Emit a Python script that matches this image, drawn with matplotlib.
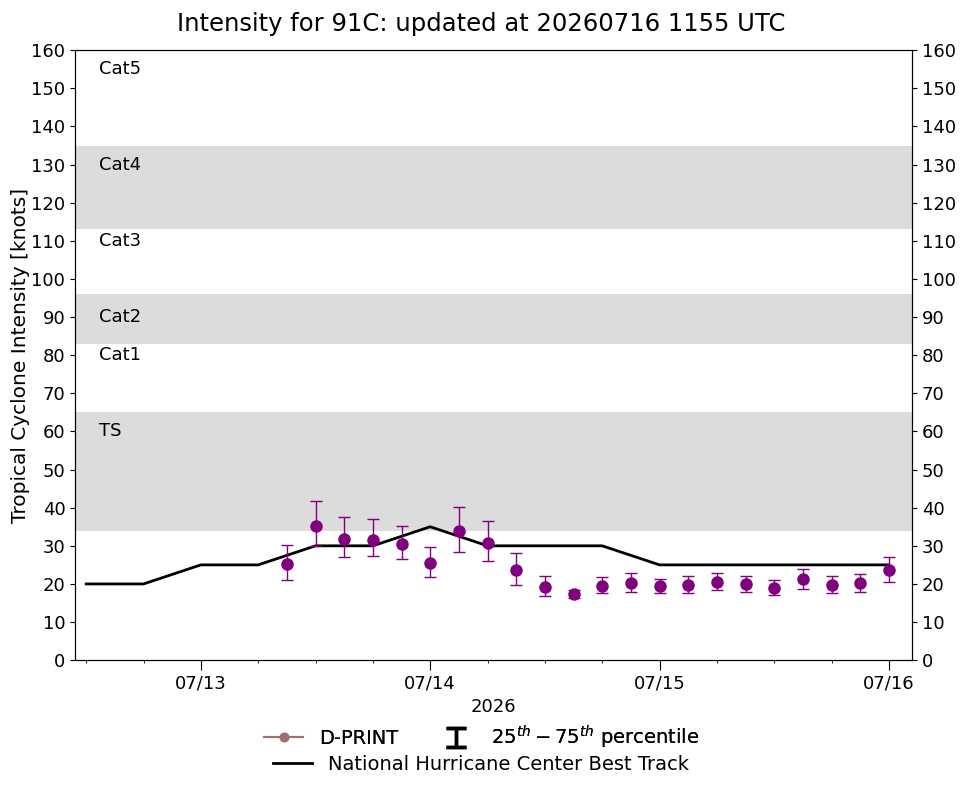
import matplotlib
matplotlib.use('Agg')
import matplotlib.pyplot as plt
import matplotlib.dates as mdates
from matplotlib.lines import Line2D
import numpy as np
from datetime import datetime, timedelta

# NHC best track, 6-hourly from 07/12 12Z
bt_start = datetime(2026, 7, 12, 12)
bt_vmax = [20, 20, 25, 25, 30, 30, 35, 30, 30, 30, 25, 25, 25, 25, 25]

# D-PRINT, 3-hourly from 07/13 09Z
dp_start = datetime(2026, 7, 13, 9)
dp_med = [25.2, 35.3, 31.8, 31.5, 30.5, 25.5, 34.0, 30.8, 23.7, 19.2, 17.3,
          19.5, 20.3, 19.4, 19.7, 20.6, 20.0, 19.0, 21.3, 19.7, 20.3, 23.7]
dp_p25 = [21.0, 30.0, 27.0, 27.2, 26.5, 21.8, 28.5, 26.0, 19.8, 16.8, 16.3,
          17.5, 17.8, 17.7, 17.5, 18.4, 18.0, 17.2, 18.8, 17.5, 17.9, 20.5]
dp_p75 = [30.2, 41.8, 37.6, 37.0, 35.3, 29.8, 40.2, 36.5, 28.0, 22.0, 18.5,
          21.8, 22.8, 21.3, 22.0, 23.0, 22.0, 21.0, 24.0, 22.0, 22.6, 27.0]

# category bands and labels
bands = [(34, 65), (83, 96), (113, 135)]
cat_labels = ['TS', 'Cat1', 'Cat2', 'Cat3', 'Cat4', 'Cat5']
cat_y = [60, 80, 90, 110, 130, 155]

bt_time = [bt_start + timedelta(hours=6 * i) for i in range(len(bt_vmax))]
dp_time = [dp_start + timedelta(hours=3 * i) for i in range(len(dp_med))]
med = np.array(dp_med)
yerr = [med - np.array(dp_p25), np.array(dp_p75) - med]

fig = plt.figure(figsize=(9.62, 7.85), dpi=100)
ax = fig.add_axes([0.078, 0.159, 0.87, 0.777])

for lo, hi in bands:
    ax.axhspan(lo, hi, color='#dcdcdc', lw=0, zorder=0)

for lab, yy in zip(cat_labels, cat_y):
    ax.text(datetime(2026, 7, 12, 13, 20), yy, lab, fontsize=13, va='center')

bt_line, = ax.plot(bt_time, bt_vmax, color='black', lw=2, zorder=2)
ax.errorbar(dp_time, dp_med, yerr=yerr, fmt='o', color='purple', ms=8,
            ecolor='purple', elinewidth=1, capsize=4, zorder=3)

x0 = datetime(2026, 7, 12, 10, 50)
ax.set_xlim(x0, datetime(2026, 7, 16, 2, 25))
ax.set_ylim(0, 160)
ax.set_yticks(np.arange(0, 161, 10))
ax.xaxis.set_major_locator(mdates.DayLocator())
ax.xaxis.set_major_formatter(mdates.DateFormatter('%m/%d'))
ax.xaxis.set_minor_locator(mdates.HourLocator(byhour=[0, 6, 12, 18]))
ax.tick_params(labelsize=13)
ax.tick_params(axis='x', which='major', length=7)
ax.set_xlabel('2026', fontsize=13)
ax.set_ylabel('Tropical Cyclone Intensity [knots]', fontsize=14.5, labelpad=1)

ax2 = ax.twinx()
ax2.set_ylim(0, 160)
ax2.set_yticks(np.arange(0, 161, 10))
ax2.tick_params(labelsize=13)

fig.suptitle('Intensity for 91C: updated at 20260716 1155 UTC', fontsize=17.5, y=0.985)

# legend (errorbar handle drawn off-axes so only the "I" shows in legend)
dp_handle = Line2D([], [], color='#a07070', marker='o', ms=6, lw=1.5)
eb = ax.errorbar([x0 - timedelta(days=5)], [-50], yerr=[5], fmt='none', ecolor='black',
                 elinewidth=2.5, capsize=7, capthick=2.5, clip_on=True)
leg1 = fig.legend([dp_handle, eb], ['D-PRINT', r'$25^{th}-75^{th}$ percentile'],
                  loc='center', bbox_to_anchor=(0.501, 0.061), ncol=2, frameon=False,
                  fontsize=14, columnspacing=2.0)
fig.legend([bt_line], ['National Hurricane Center Best Track'], loc='center',
           bbox_to_anchor=(0.5, 0.026), frameon=False, fontsize=14)
fig.add_artist(leg1)

fig.savefig('out.png', dpi=100)
